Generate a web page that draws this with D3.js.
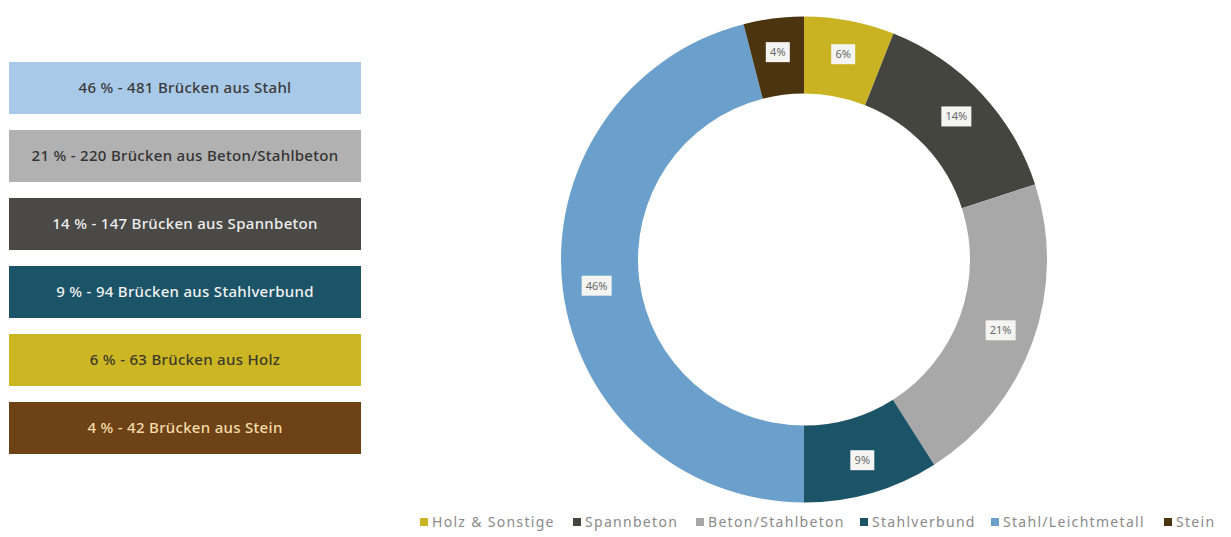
<!DOCTYPE html>
<html><head><meta charset="utf-8">
<script src="https://cdn.jsdelivr.net/npm/d3@7"></script>
<style>body{margin:0;background:#fff;}svg{display:block;font-family:"Noto Sans",Lato,sans-serif;}</style>
</head><body>
<svg id="c" width="1231" height="537"></svg>
<script>
// Donut data (clockwise from 12 o'clock)
const categories = ["Holz & Sonstige","Spannbeton","Beton/Stahlbeton","Stahlverbund","Stahl/Leichtmetall","Stein"];
const shares = [6,14,21,9,46,4];
const sliceColors = ["#c9b322","#454540","#a9a8a8","#1c5467","#6aa0cb","#4b3511"];
// Left boxes
const boxLabels = ["46 % - 481 Brücken aus Stahl","21 % - 220 Brücken aus Beton/Stahlbeton","14 % - 147 Brücken aus Spannbeton","9 % - 94 Brücken aus Stahlverbund","6 % - 63 Brücken aus Holz","4 % - 42 Brücken aus Stein"];
const boxFill = ["#a8c9e7","#b2b1b1","#4a4946","#1b5367","#cdb624","#6c4216"];
const boxText = ["#3a3a3a","#333333","#eeeeee","#f2f2f2","#3a3a2a","#f6dca8"];

const svg = d3.select("#c");

// boxes
const by = d3.scaleBand().domain(d3.range(boxLabels.length)).range([62,62+68*6-16]).paddingInner(16/68).paddingOuter(0);
const bg = svg.append("g");
bg.selectAll("rect").data(boxLabels).join("rect")
  .attr("x",9).attr("y",(d,i)=>by(i)).attr("width",352).attr("height",by.bandwidth())
  .attr("fill",(d,i)=>boxFill[i]);
bg.selectAll("text").data(boxLabels).join("text")
  .attr("x",185).attr("y",(d,i)=>by(i)+by.bandwidth()/2).attr("dy","0.35em")
  .attr("text-anchor","middle").attr("font-size",15).attr("font-weight",500)
  .attr("letter-spacing",0.3).attr("fill",(d,i)=>boxText[i])
  .text(d=>d);

// donut
const cx=804, cy=259.5, rO=243, rI=166;
const pie = d3.pie().sort(null).value(d=>d);
const arcs = pie(shares);
const arc = d3.arc().innerRadius(rI).outerRadius(rO);
const g = svg.append("g").attr("transform",`translate(${cx},${cy})`);
g.selectAll("path").data(arcs).join("path").attr("d",arc).attr("fill",(d,i)=>sliceColors[i]);
const lab = d3.arc().innerRadius(209).outerRadius(209);
const lg = g.selectAll("g.l").data(arcs).join("g").attr("class","l")
  .attr("transform",d=>`translate(${lab.centroid(d)})`);
lg.append("rect").attr("x",d=>d.data>=10?-15:-12).attr("y",-10)
  .attr("width",d=>d.data>=10?30:24).attr("height",20).attr("fill","#f4f4f2");
lg.append("text").attr("text-anchor","middle").attr("dy","0.35em").attr("font-size",11)
  .attr("fill","#6a6a6a").text(d=>d.data+"%");

// bottom legend
const legX = [420,573,696,860,991,1164];
const leg = svg.append("g");
categories.forEach((c,i)=>{
  leg.append("rect").attr("x",legX[i]).attr("y",518).attr("width",8).attr("height",8).attr("fill",sliceColors[i]);
  leg.append("text").attr("x",legX[i]+12).attr("y",522).attr("dy","0.35em")
    .attr("font-size",14).attr("letter-spacing",1.3).attr("fill","#8a8a8a").text(c);
});
</script>
</body></html>
